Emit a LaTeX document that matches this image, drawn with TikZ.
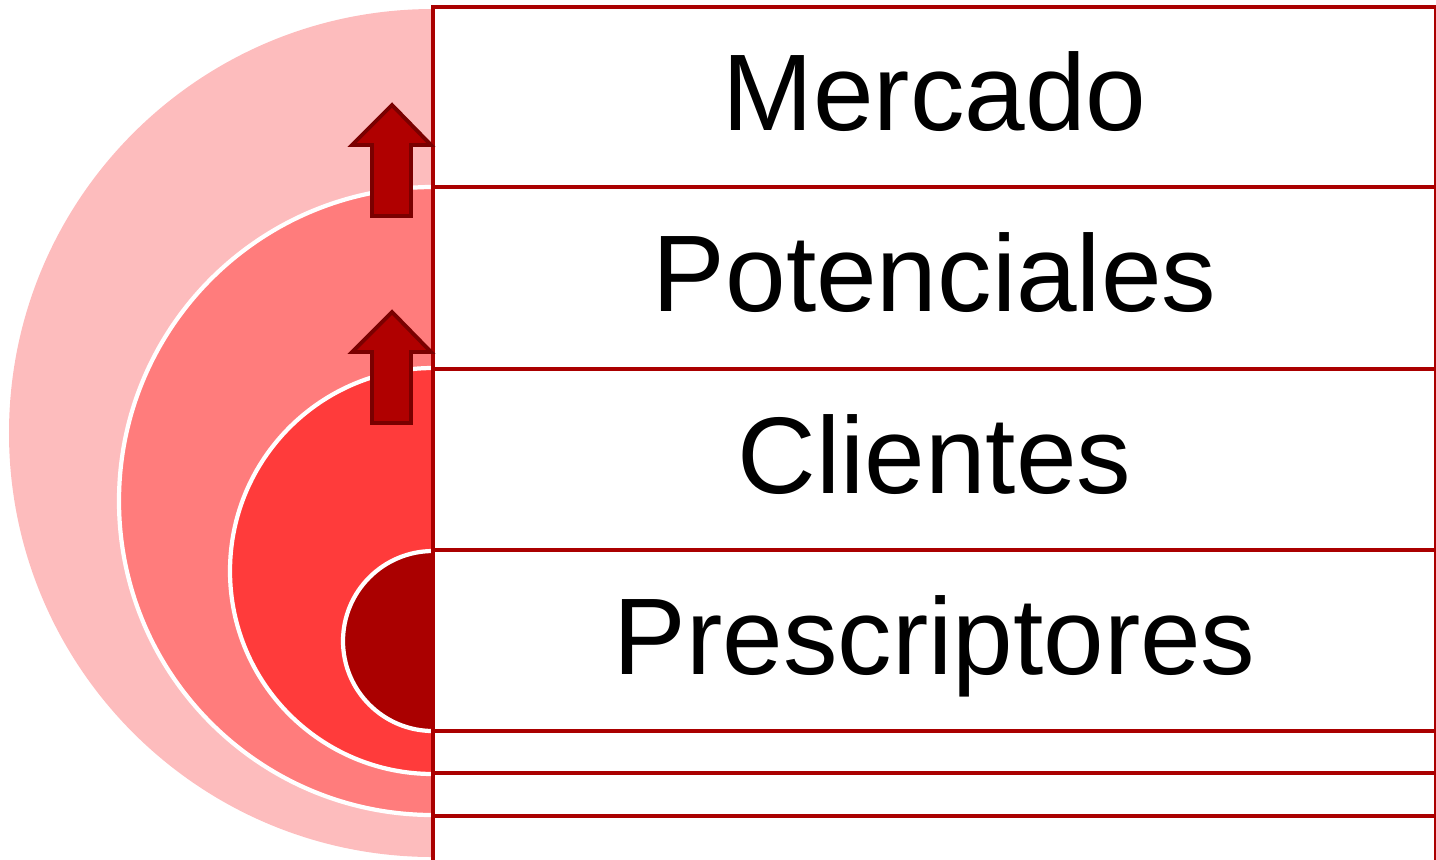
\documentclass[tikz,border=0pt]{standalone}
\usepackage{fontspec}
\setmainfont{Liberation Sans}
\usetikzlibrary{positioning}

\definecolor{rosaclaro}{RGB}{253,188,189}
\definecolor{rosamedio}{RGB}{255,124,124}
\definecolor{rojovivo}{RGB}{255,59,59}
\definecolor{granate}{RGB}{170,0,0}
\definecolor{flecharoja}{RGB}{176,0,0}
\definecolor{flechaborde}{RGB}{122,0,0}

\tikzset{
  fila/.style={draw=granate, line width=1.35pt, fill=white, anchor=north west,
    minimum width=10.03cm, inner sep=0pt, outer sep=0pt,
    text height=0.9cm, text depth=0.23cm,
    font=\fontsize{31}{37}\selectfont},
  disco/.style={white, line width=1.2pt},
  flecha/.style={fill=flecharoja, draw=flechaborde, line width=1.1pt, line join=miter}
}

\begin{document}
\begin{tikzpicture}

  \useasboundingbox (0,0) rectangle (14.36,8.59);

  % half disks, outer to inner
  \fill[rosaclaro] (4.33,8.50) arc[start angle=90, end angle=270, radius=4.24] -- cycle;
  \fill[rosamedio] (4.33,6.72) arc[start angle=90, end angle=270, radius=3.14] -- cycle;
  \draw[disco] (4.33,6.72) arc[start angle=90, end angle=270, radius=3.14];
  \fill[rojovivo] (4.33,4.91) arc[start angle=90, end angle=270, radius=2.03] -- cycle;
  \draw[disco] (4.33,4.91) arc[start angle=90, end angle=270, radius=2.03];
  \fill[granate] (4.33,3.08) arc[start angle=90, end angle=270, radius=0.90] -- cycle;
  \draw[disco] (4.33,3.08) arc[start angle=90, end angle=270, radius=0.90];

  % rows
  \node[fila, minimum height=1.80cm] (mercado)       at (4.33,8.52) {Mercado};
  \node[fila, minimum height=1.82cm] (potenciales)   at (4.33,6.72) {Potenciales};
  \node[fila, minimum height=1.81cm] (clientes)      at (4.33,4.90) {Clientes};
  \node[fila, minimum height=1.81cm] (prescriptores) at (4.33,3.09) {Prescriptores};
  \node[fila, minimum height=0.42cm] (vacia1)        at (4.33,1.28) {};
  \node[fila, minimum height=0.43cm] (vacia2)        at (4.33,0.86) {};
  \node[fila, minimum height=0.41cm] (vacia3)        at (4.33,0.43) {};

  % up arrows
  \foreach \yb in {6.43,4.36} {
    \draw[flecha] (3.72,\yb) -- (3.72,\yb+0.71) -- (3.52,\yb+0.71) -- (3.92,\yb+1.11)
      -- (4.31,\yb+0.71) -- (4.11,\yb+0.71) -- (4.11,\yb) -- cycle;
  }

\end{tikzpicture}
\end{document}
